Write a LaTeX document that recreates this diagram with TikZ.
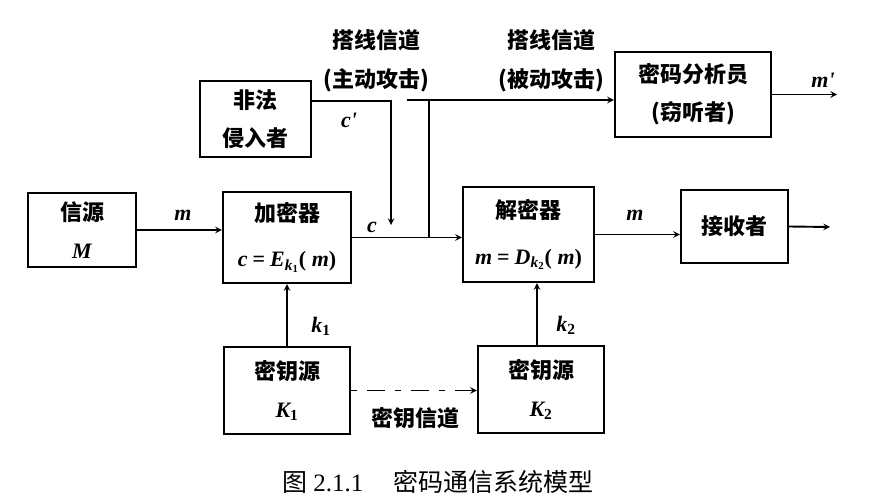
\documentclass[tikz,border=0pt]{standalone}
\usepackage{fontspec}
\setmainfont{Noto Sans CJK SC}
\newfontfamily\tms{Liberation Serif}
\newcommand\fm[1]{{\tms\bfseries\itshape #1}}
\newcommand\lowidx[1]{\textsubscript{#1}}
\begin{document}
\begin{tikzpicture}[x=1pt, y=-1pt, >=stealth, line width=1.9pt,
    box/.style={draw, line width=2.3pt, align=center, inner sep=0pt,
        font=\fontsize{22}{38}\selectfont\bfseries},
    lbl/.style={inner sep=0pt, font=\fontsize{22}{26}\selectfont\bfseries},
    keyline/.style={dash pattern=on 6pt off 10pt on 18pt off 10pt}]

    \useasboundingbox (0,0) rectangle (877,500);

    % boxes
    \node [box, minimum width=108, minimum height=74] (src) at (82,230) {信源\\\fm{M}};
    \node [box, minimum width=128, minimum height=91] (enc) at (287,237.5)
        {加密器\\[7pt]\fm{c} {\tms\bfseries =} \fm{E}\lowidx{\fm{k}\lowidx{\tms\bfseries 1}}{\tms\bfseries ( }\fm{m}{\tms\bfseries )}};
    \node [box, minimum width=111, minimum height=76] (intr) at (255.5,119) {非法\\侵入者};
    \node [box, minimum width=131, minimum height=95] (dec) at (528.5,234.5)
        {解密器\\[8pt]\fm{m} {\tms\bfseries =} \fm{D}\lowidx{\fm{k}\lowidx{\tms\bfseries 2}}{\tms\bfseries ( }\fm{m}{\tms\bfseries )}};
    \node [box, minimum width=107, minimum height=73] (recv) at (734.5,226.5) {接收者};
    \node [box, minimum width=156, minimum height=85] (ana) at (693,94.5) {密码分析员\\(窃听者)};
    \node [box, minimum width=126, minimum height=87] (key1) at (287,390.5) {密钥源\\\fm{K}\lowidx{\tms\bfseries 1}};
    \node [box, minimum width=126, minimum height=87] (key2) at (541,389.5) {密钥源\\\fm{K}\lowidx{\tms\bfseries 2}};

    % free ends
    \coordinate (out) at (830,227);
    \coordinate (mout) at (837,96);
    \coordinate (hit) at (391,225);
    \coordinate (tap) at (429,237.5);
    \coordinate (stub) at (407,100);

    % connectors
    \draw [->] (src.east) -- (src.east -| enc.west);
    \draw [->] (enc.east) -- (enc.east -| dec.west);
    \draw [->] (dec.east) -- (dec.east -| recv.west);
    \draw [->] (recv.east) -- (out);
    \draw [->] (ana.east) -- (ana.east -| mout);
    \draw [->] ([yshift=18pt]intr.east) -| (hit);
    \draw (tap) -- (tap |- stub);
    \draw [->] (stub) -- (stub -| ana.west);
    \draw [->] (key1.north) -- (enc.south);
    \draw [->] ([xshift=-4pt]key2.north) -- ([xshift=-4pt]key2.north |- dec.south);
    \draw [->, keyline] (key1.east) -- (key1.east -| key2.west);

    % labels
    \foreach \n/\x/\y/\t in {lm/183/215/m, lc/372/227/c, lcp/349/120/c', lmr/635/215/m, lmp/823/80/m'}
    \node [lbl] (\n) at (\x,\y) {\fm{\t}};
    \node [lbl] (lk1) at (321,326) {\fm{k}\lowidx{\tms\bfseries 1}};
    \node [lbl] (lk2) at (566,325) {\fm{k}\lowidx{\tms\bfseries 2}};
    \node [lbl] (lkc) at (415,418) {密钥信道};

    \foreach \n/\x/\t in {act/376/主动攻击, pas/551/被动攻击} {
    \node [lbl] (\n-top) at (\x,40) {搭线信道};
    \node [lbl] (\n-bot) at (\x,80) {(\t)};
    }

    \node [inner sep=0pt, font=\fontsize{25}{30}\selectfont] (cap) at (438,482)
        {图 {\tms 2.1.1}\hspace{1.2em}密码通信系统模型};
\end{tikzpicture}
\end{document}
